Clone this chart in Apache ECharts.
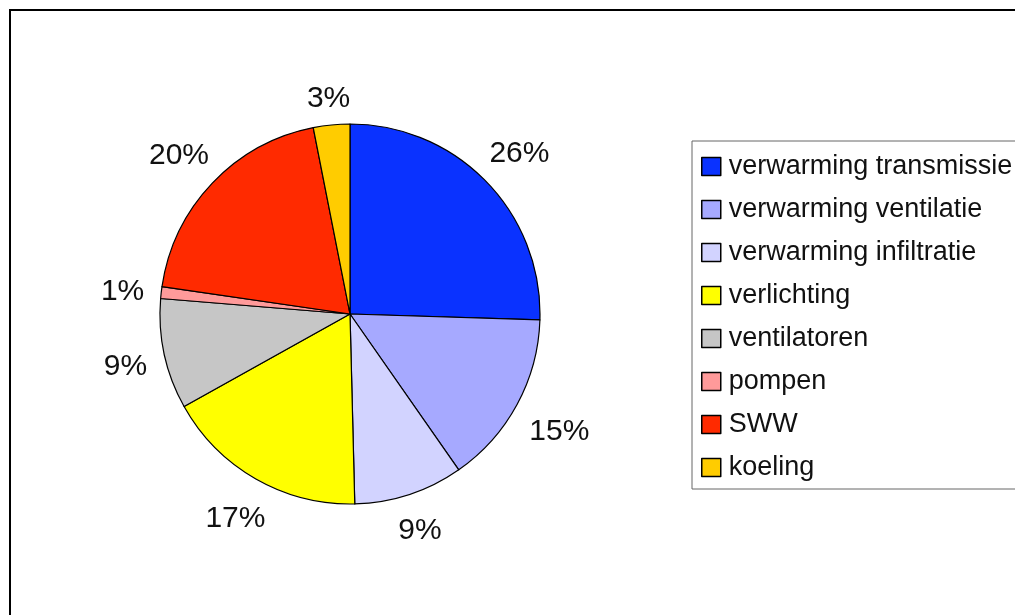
<!DOCTYPE html>
<html>
<head>
<meta charset="utf-8">
<script src="https://cdn.jsdelivr.net/npm/echarts@6/dist/echarts.min.js"></script>
<style>
  html, body { margin: 0; padding: 0; background: #fff; }
  #chart { width: 1015px; height: 615px; }
</style>
</head>
<body>
<div id="chart"></div>
<script>
// energy use breakdown (share per post)
var categories = ['verwarming transmissie', 'verwarming ventilatie', 'verwarming infiltratie',
  'verlichting', 'ventilatoren', 'pompen', 'SWW', 'koeling'];
var values = [25.5, 14.8, 9.3, 17.3, 9.4, 1.0, 19.6, 3.1];
var colors = ['#0a32ff', '#a6a9ff', '#d2d3ff', '#ffff00', '#c6c6c6', '#ff9a9a', '#ff2a00', '#ffcc00'];

var cx = 350, cy = 314, r = 190;
var font = 'Liberation Sans, Arial, sans-serif';

var total = values.reduce(function(a, b) { return a + b; }, 0);

var chart = echarts.init(document.getElementById('chart'), null, { renderer: 'canvas' });
chart.setOption({
  animation: false,
  backgroundColor: '#fff',
  graphic: [{
    type: 'rect',
    shape: { x: 10, y: 10, width: 1100, height: 700 },
    style: { fill: 'none', stroke: '#000', lineWidth: 2 },
    silent: true
  }],
  legend: {
    orient: 'vertical',
    left: 692,
    top: 141,
    padding: [12, 40, 8, 9],
    icon: 'rect',
    itemWidth: 19,
    itemHeight: 18,
    itemGap: 16,
    borderColor: '#666',
    borderWidth: 1,
    data: categories,
    itemStyle: { borderColor: '#000', borderWidth: 1.5 },
    textStyle: { color: '#111', fontFamily: font, fontSize: 27, lineHeight: 26, padding: [0, 0, 0, 3] }
  },
  series: [{
    type: 'pie',
    center: [cx, cy],
    radius: r,
    startAngle: 90,
    clockwise: true,
    avoidLabelOverlap: false,
    percentPrecision: 0,
    data: categories.map(function(name, i) {
      return { name: name, value: values[i], itemStyle: { color: colors[i] } };
    }),
    itemStyle: { borderColor: '#000', borderWidth: 1.2 },
    label: {
      show: true,
      position: 'outside',
      formatter: '{d}%',
      color: '#111',
      fontFamily: font,
      fontSize: 30
    },
    labelLine: { show: false },
    labelLayout: function(p) {
      // place label just outside the rim along the slice's mid angle
      var before = 0;
      for (var i = 0; i < p.dataIndex; i++) before += values[i];
      var mid = (before + values[p.dataIndex] / 2) / total * Math.PI * 2;
      var ux = Math.sin(mid), uy = -Math.cos(mid);
      var hw = p.labelRect.width / 2, hh = 12;
      var d = r + 16 + Math.abs(ux) * hw + Math.abs(uy) * hh;
      return { x: cx + ux * d, y: cy + uy * d + 4, align: 'center', verticalAlign: 'middle' };
    },
    emphasis: { disabled: true }
  }]
});
window.addEventListener('resize', function() { chart.resize(); });
</script>
</body>
</html>
